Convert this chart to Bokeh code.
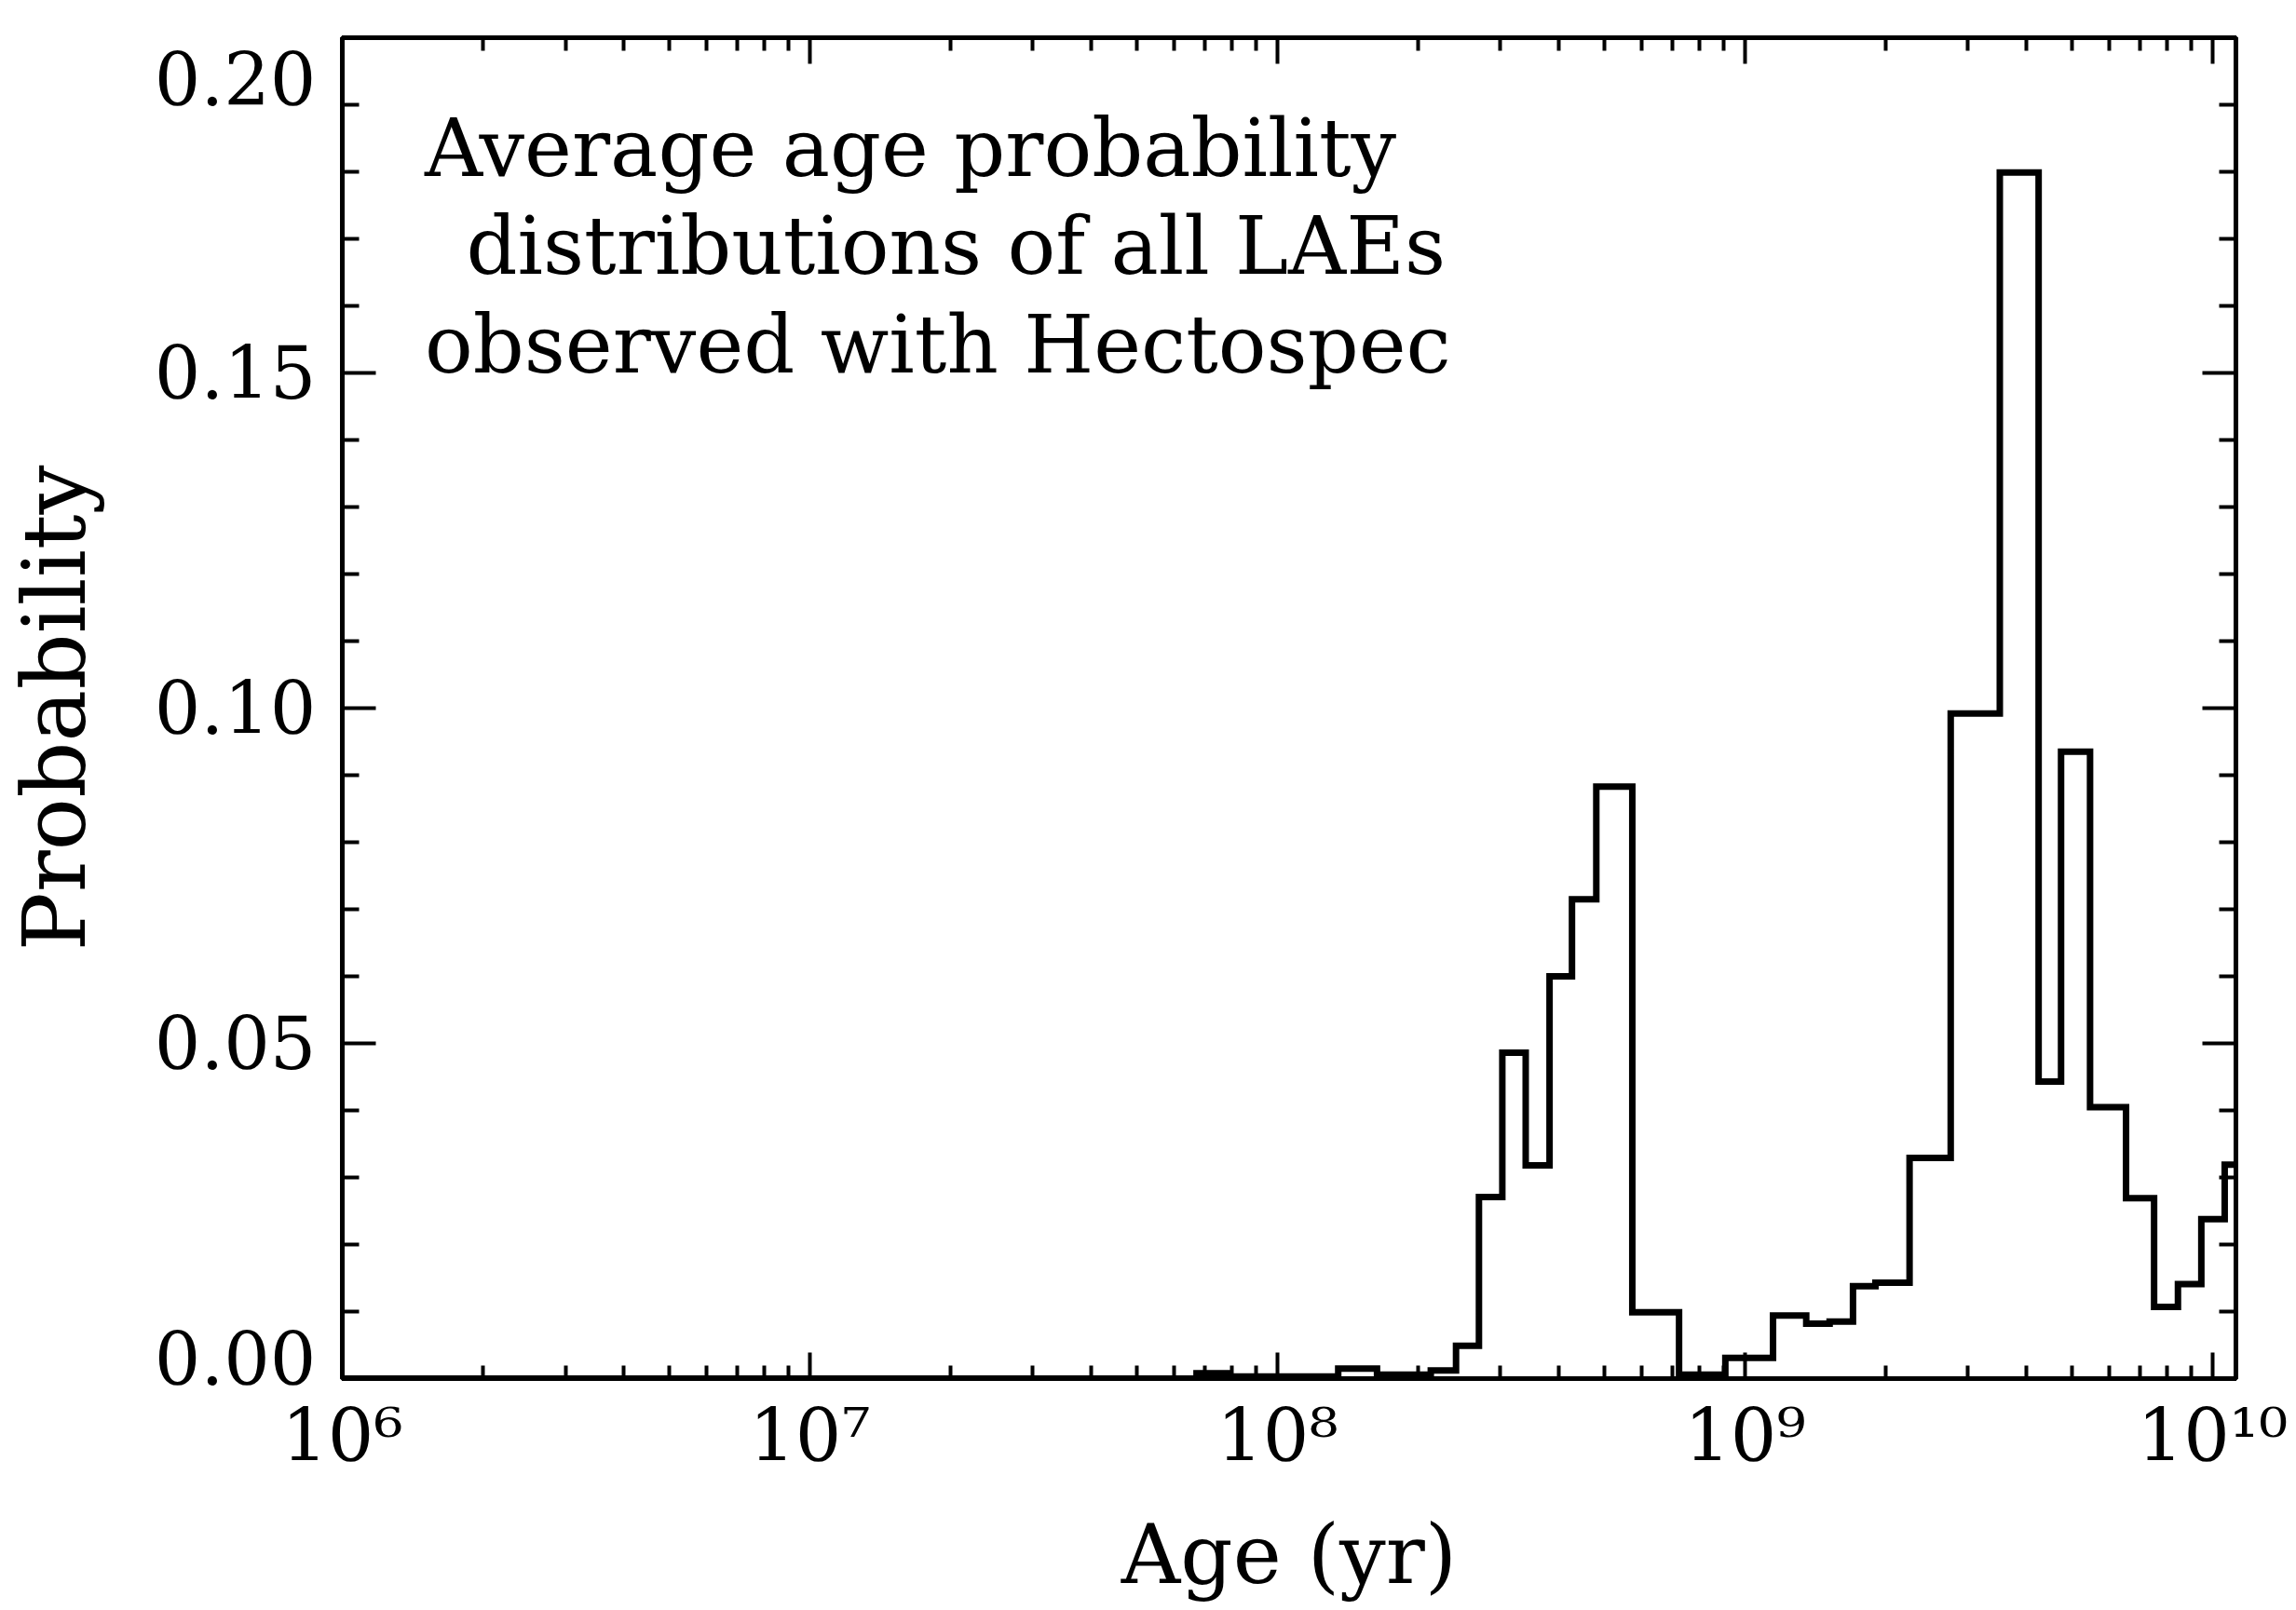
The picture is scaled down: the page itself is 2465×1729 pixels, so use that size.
from bokeh.plotting import figure
from bokeh.models import (FixedTicker, LinearAxis, LogAxis,
                          CustomJSTickFormatter, Range1d)
from bokeh.core.properties import value
from bokeh.embed import file_html
from bokeh.resources import INLINE

# ---- data (bin edges in log10(age/yr), probability per bin)
log_age_edges = [6.0, 7.827, 7.895, 8.13, 8.213, 8.328, 8.382, 8.431, 8.481, 8.531,
                 8.582, 8.630, 8.682, 8.759, 8.859, 8.958, 9.060, 9.131, 9.181, 9.231,
                 9.279, 9.352, 9.440, 9.545, 9.628, 9.676, 9.738, 9.815, 9.875, 9.926,
                 9.976, 10.026, 10.05]
probability = [0.0, 0.0008, 0.0003, 0.0015, 0.0006, 0.0012, 0.0049, 0.0271, 0.0486, 0.0318,
               0.0600, 0.0715, 0.0883, 0.0099, 0.0006, 0.0031, 0.0094, 0.0082, 0.0085, 0.0138,
               0.0143, 0.0329, 0.0992, 0.1799, 0.0443, 0.0935, 0.0405, 0.0269, 0.0107, 0.0141,
               0.0238, 0.0319]

x_tick_exponents = [6, 7, 8, 9, 10]
x_tick_labels = ["10\u2076", "10\u2077", "10\u2078", "10\u2079", "10\u00b9\u2070"]
y_ticks = [0.0, 0.05, 0.10, 0.15, 0.20]
y_tick_labels = ["0.00", "0.05", "0.10", "0.15", "0.20"]
y_minor_ticks = [0.01, 0.02, 0.03, 0.04, 0.06, 0.07, 0.08, 0.09,
                 0.11, 0.12, 0.13, 0.14, 0.16, 0.17, 0.18, 0.19]
note_lines = ["Average age probability", "distributions of all LAEs",
              "observed with Hectospec"]
note_x = [1.50e6, 1.84e6, 1.50e6]
note_y = [0.1836, 0.1690, 0.1542]

FONT = "DejaVu Serif"

# ---- step outline of the histogram
xs, ys = [10 ** log_age_edges[0]], [0.0]
for i, v in enumerate(probability):
    xs += [10 ** log_age_edges[i], 10 ** log_age_edges[i + 1]]
    ys += [v, v]

x_start = 10 ** log_age_edges[0]
x_end = 10 ** log_age_edges[-1]

p = figure(width=2465, height=1729, x_axis_type="log",
           x_range=Range1d(x_start, x_end), y_range=Range1d(y_ticks[0], y_ticks[-1]),
           output_backend="svg", toolbar_location=None,
           min_border_left=364, min_border_right=65,
           min_border_top=40, min_border_bottom=249)
p.background_fill_color = "white"
p.border_fill_color = "white"
p.outline_line_color = "black"
p.outline_line_width = 5
p.xgrid.visible = False
p.ygrid.visible = False

p.line(xs, ys, line_color="black", line_width=7, line_join="miter")

p.text(x=note_x, y=note_y, text=note_lines, text_font=value(FONT),
       text_font_size="86px", text_color="black", text_align="left",
       text_baseline="alphabetic")

minor_x = [m * 10 ** e for e in range(6, 10) for m in range(2, 10)]
x_ticker = FixedTicker(ticks=[10.0 ** e for e in x_tick_exponents], minor_ticks=minor_x)
y_ticker = FixedTicker(ticks=y_ticks, minor_ticks=y_minor_ticks)

x_fmt = CustomJSTickFormatter(args=dict(exps=x_tick_exponents, xlabels=x_tick_labels), code="""
const e = Math.round(Math.log10(tick));
const i = exps.indexOf(e);
return i >= 0 ? xlabels[i] : "";
""")
# first / last y labels sit just inside the box ends, as in the reference
y_fmt = CustomJSTickFormatter(args=dict(yvals=y_ticks, ylabels=y_tick_labels), code="""
let best = 0, d = 1e9;
for (let k = 0; k < yvals.length; k++) {
  const dk = Math.abs(yvals[k] - tick);
  if (dk < d) { d = dk; best = k; }
}
const s = ylabels[best];
if (best == 0) return s + "\\n";
if (best == yvals.length - 1) return "\\n" + s;
return s;
""")

LABEL_PX = "78px"


def style(ax, major_len, minor_len, labels=True):
    ax.axis_line_color = "black"
    ax.axis_line_width = 5
    ax.major_tick_line_width = 4
    ax.minor_tick_line_width = 4
    ax.major_tick_in = major_len
    ax.major_tick_out = 0
    ax.minor_tick_in = minor_len
    ax.minor_tick_out = 0
    if labels:
        ax.major_label_text_font = FONT
        ax.major_label_text_font_size = LABEL_PX
        ax.major_label_text_color = "black"
        ax.axis_label_text_font = FONT
        ax.axis_label_text_font_style = "normal"
        ax.axis_label_text_color = "black"
    else:
        ax.major_label_text_font_size = "0px"
        ax.major_label_standoff = 0


xa = p.xaxis[0]
xa.ticker = x_ticker
xa.formatter = x_fmt
xa.axis_label = "Age (yr)"
style(xa, 28, 14)
xa.axis_label_text_font_size = "88px"
xa.major_label_standoff = 16
xa.axis_label_standoff = 28

ya = p.yaxis[0]
ya.ticker = y_ticker
ya.formatter = y_fmt
ya.axis_label = "Probability"
style(ya, 36, 18)
ya.major_label_text_line_height = 0.45
ya.axis_label_text_font_size = "94px"
ya.major_label_standoff = 28
ya.axis_label_standoff = 50

top = LogAxis(ticker=x_ticker, formatter=CustomJSTickFormatter(code="return '';"))
style(top, 28, 14, labels=False)
p.add_layout(top, "above")

right = LinearAxis(ticker=y_ticker, formatter=CustomJSTickFormatter(code="return '';"))
style(right, 36, 18, labels=False)
p.add_layout(right, "right")

open("out.html", "w").write(file_html(p, INLINE))
